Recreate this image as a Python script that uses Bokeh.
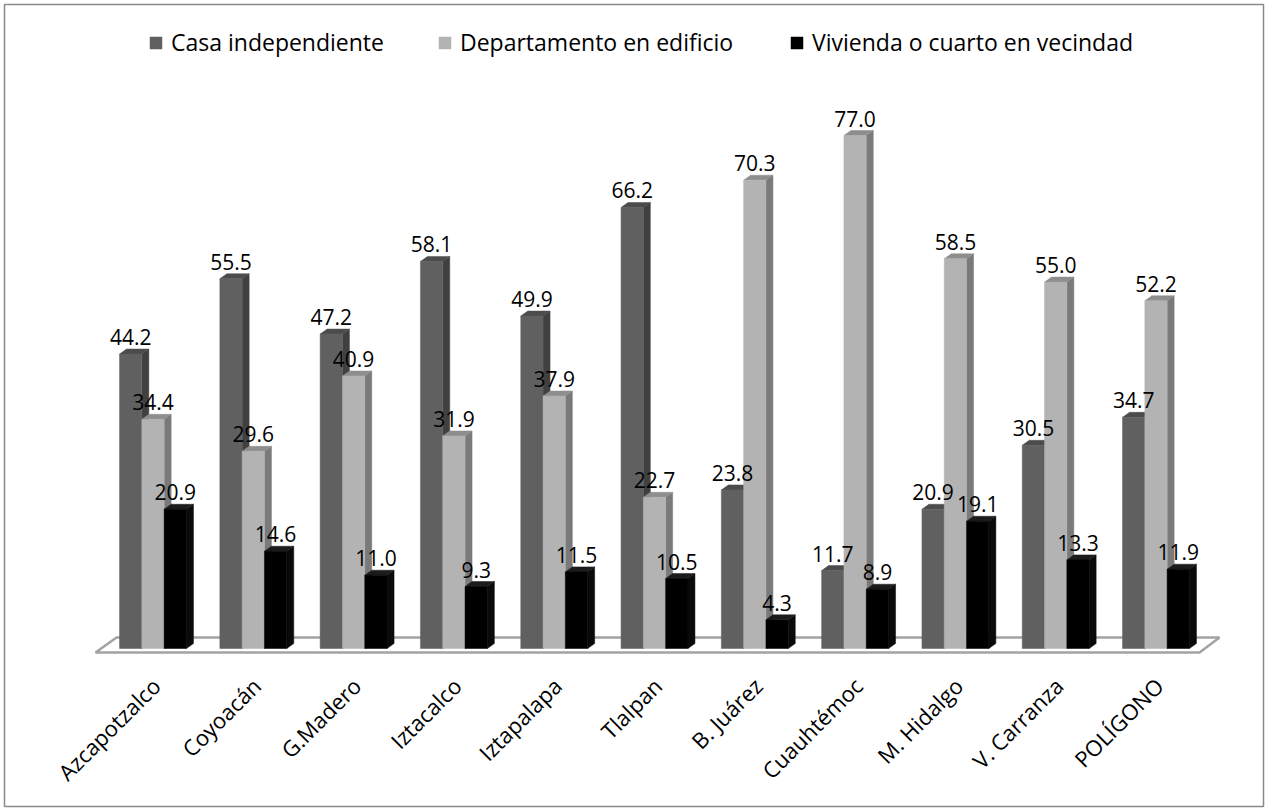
import math
from bokeh.plotting import figure
from bokeh.models import Range1d, Legend, LegendItem, ColumnDataSource
from bokeh.core.properties import value
from bokeh.embed import file_html
from bokeh.resources import INLINE

# ---------------- data ----------------
categories = ["Azcapotzalco", "Coyoacán", "G.Madero", "Iztacalco", "Iztapalapa",
              "Tlalpan", "B. Juárez", "Cuauhtémoc", "M. Hidalgo", "V. Carranza", "POLÍGONO"]
casa = [44.2, 55.5, 47.2, 58.1, 49.9, 66.2, 23.8, 11.7, 20.9, 30.5, 34.7]
departamento = [34.4, 29.6, 40.9, 31.9, 37.9, 22.7, 70.3, 77.0, 58.5, 55.0, 52.2]
vecindad = [20.9, 14.6, 11.0, 9.3, 11.5, 10.5, 4.3, 8.9, 19.1, 13.3, 11.9]
series_names = ["Casa independiente", "Departamento en edificio", "Vivienda o cuarto en vecindad"]

# ---------------- style ----------------
FONT = "Open Sans"
front_colors = ["#606060", "#b3b3b3", "#000000"]
side_colors = ["#404040", "#7a7a7a", "#0a0a0a"]
top_colors = ["#4c4c4c", "#8e8e8e", "#1c1c1c"]

W, H = 1267, 810
MB = 4
FW, FH = W - 2 * MB, H - 2 * MB
PX_X = 100.3      # px per category
PX_Y = 6.662      # px per value unit
X0_PX = 152.5 - MB
Y0_PX = 648 - MB

xs = -X0_PX / PX_X
xe = xs + FW / PX_X
ye = Y0_PX / PX_Y
ys = ye - FH / PX_Y

p = figure(width=W, height=H, output_backend="svg", toolbar_location=None,
           x_range=Range1d(xs, xe), y_range=Range1d(ys, ye),
           min_border=MB, background_fill_color="white", border_fill_color="white")
p.axis.visible = False
p.grid.visible = False
p.outline_line_color = "#8a8a8a"
p.outline_line_width = 1.5

n = len(categories)
bar_w = 22.3 / PX_X
dx = 7 / PX_X
dy = 5 / PX_Y

# floor (3D base)
fl_front_l = -0.573
fl_front_r = (n - 1) + 0.434
fl_back = 15 / PX_Y
fl_front_y = -4 / PX_Y
p.patch([fl_front_l, fl_front_r, fl_front_r + 20 / PX_X, fl_front_l + 21 / PX_X],
        [fl_front_y, fl_front_y, fl_front_y + fl_back, fl_front_y + fl_back],
        fill_color="white", line_color="#a3a3a3", line_width=2.5)

all_series = [casa, departamento, vecindad]
front_renderers = []
for s, vals in enumerate(all_series):
    off = (s - 1) * bar_w
    lefts = [i + off - bar_w / 2 for i in range(n)]
    rights = [l + bar_w for l in lefts]
    side_x = [[r, r + dx, r + dx, r] for r in rights]
    side_y = [[0, dy, v + dy, v] for v in vals]
    top_x = [[l, r, r + dx, l + dx] for l, r in zip(lefts, rights)]
    top_y = [[v, v, v + dy, v + dy] for v in vals]
    p.patches(side_x, side_y, fill_color=side_colors[s], line_color=side_colors[s], line_width=0.5)
    p.patches(top_x, top_y, fill_color=top_colors[s], line_color=top_colors[s], line_width=0.5)
    src = ColumnDataSource(dict(left=lefts, right=rights, top=vals, bottom=[0] * n))
    r = p.quad(left="left", right="right", top="top", bottom="bottom", source=src,
               fill_color=front_colors[s], line_color=front_colors[s], line_width=0.5)
    front_renderers.append(r)

# value labels
for s, vals in enumerate(all_series):
    off = (s - 1) * bar_w
    xs_l = [i + off for i in range(n)]
    lbl = ["%.1f" % v for v in vals]
    p.text(x=xs_l, y=vals, text=lbl, text_font=value(FONT), text_font_size="21px",
           text_color="black", text_align="center", text_baseline="alphabetic", y_offset=-17)

# category labels
p.text(x=[i + 0.03 for i in range(n)], y=[0] * n, text=categories, angle=math.pi / 4,
       text_font=value(FONT), text_font_size="22px", text_color="black",
       text_align="right", text_baseline="middle", y_offset=33)

# legends (one per series, placed like the original)
leg_x = [148 - MB, 437 - MB, 789 - MB]
for s in range(3):
    leg = Legend(items=[LegendItem(label=series_names[s], renderers=[front_renderers[s]])],
                 location=(leg_x[s], FH - 54), orientation="horizontal",
                 padding=0, margin=0, border_line_color=None, background_fill_alpha=0,
                 glyph_width=15, glyph_height=15, label_standoff=8,
                 label_text_font=FONT, label_text_font_size="23px", label_text_color="black")
    p.add_layout(leg, "center")

open("out.html", "w").write(file_html(p, INLINE))
